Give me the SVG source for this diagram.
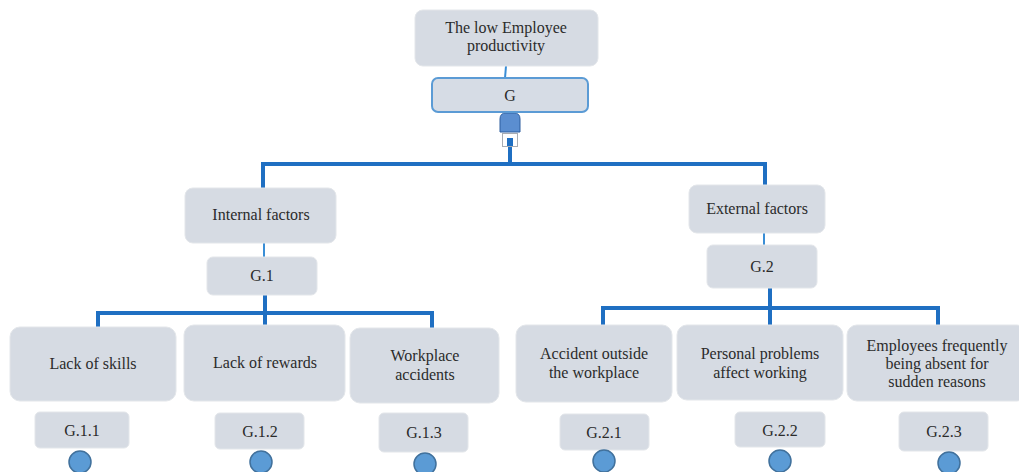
<svg xmlns="http://www.w3.org/2000/svg" width="1019" height="472" viewBox="0 0 1019 472">
  <style>
    .box { fill: #d6dbe3; stroke: #e3e6ea; stroke-width: 1; }
    .gbox { fill: #d6dce5; stroke: #5b9bd5; stroke-width: 2; }
    .lbl { font-family: "Liberation Serif", "DejaVu Serif", serif; font-size: 16px; fill: #2b2b2b; text-anchor: middle; }
    .thick { stroke: #1f6fc2; stroke-width: 4; fill: none; }
    .thin { stroke: #3a8ed6; stroke-width: 2; fill: none; }
    .dot { fill: #5b9bd5; stroke: #41719c; stroke-width: 1.5; }
  </style>
  <rect width="1019" height="472" fill="#ffffff"/>

  <!-- connectors -->
  <g id="connectors">
    <line class="thin" x1="506" y1="66" x2="505" y2="78"/>
    <line class="thick" x1="510" y1="146" x2="510" y2="164"/>
    <polyline class="thick" points="263,188 263,164 765,164 765,185"/>
    <line class="thin" x1="264" y1="243" x2="264" y2="257"/>
    <line class="thick" x1="265" y1="295" x2="265" y2="313"/>
    <polyline class="thick" points="98,328 98,313 432,313 432,328"/>
    <line class="thick" x1="265" y1="313" x2="265" y2="326"/>
    <line class="thin" x1="764" y1="233" x2="764" y2="245"/>
    <line class="thick" x1="770" y1="288" x2="770" y2="308"/>
    <polyline class="thick" points="603,326 603,308 938,308 938,326"/>
    <line class="thick" x1="770" y1="308" x2="770" y2="326"/>
    <!-- plug-shaped junction under G -->
    <path d="M500,132 V119 Q500,113 506,113 H514 Q520,113 520,119 V132 Z" fill="#5b8ed0" stroke="#2f5f9f" stroke-width="1"/>
    <rect x="502.5" y="133.5" width="15" height="13" fill="#ffffff" stroke="#a9adb3" stroke-width="1"/>
    <rect x="507" y="138" width="6" height="8" fill="#1f6fc2"/>
  </g>

  <g id="root">
    <rect class="box" x="415" y="10" width="183" height="56" rx="8"/>
    <text class="lbl" x="506" y="33">The low Employee</text>
    <text class="lbl" x="506" y="51">productivity</text>
  </g>
  <g id="g">
    <rect class="gbox" x="432" y="78" width="156" height="34" rx="6"/>
    <text class="lbl" x="510" y="101">G</text>
  </g>

  <g id="internal">
    <rect class="box" x="185" y="188" width="151" height="55" rx="8"/>
    <text class="lbl" x="261" y="220">Internal factors</text>
  </g>
  <g id="g1">
    <rect class="box" x="207" y="257" width="110" height="38" rx="6"/>
    <text class="lbl" x="262" y="281">G.1</text>
  </g>

  <g id="external">
    <rect class="box" x="689" y="185" width="136" height="48" rx="8"/>
    <text class="lbl" x="757" y="214">External factors</text>
  </g>
  <g id="g2">
    <rect class="box" x="707" y="245" width="110" height="43" rx="6"/>
    <text class="lbl" x="762" y="272">G.2</text>
  </g>

  <g id="skills">
    <rect class="box" x="10" y="327" width="166" height="74" rx="10"/>
    <text class="lbl" x="93" y="369">Lack of skills</text>
  </g>
  <g id="rewards">
    <rect class="box" x="184" y="325" width="161" height="76" rx="10"/>
    <text class="lbl" x="265" y="368">Lack of rewards</text>
  </g>
  <g id="accidents">
    <rect class="box" x="350" y="328" width="149" height="75" rx="10"/>
    <text class="lbl" x="425" y="361">Workplace</text>
    <text class="lbl" x="425" y="380">accidents</text>
  </g>
  <g id="outside">
    <rect class="box" x="516" y="325" width="156" height="77" rx="10"/>
    <text class="lbl" x="594" y="359">Accident outside</text>
    <text class="lbl" x="594" y="378">the workplace</text>
  </g>
  <g id="personal">
    <rect class="box" x="677" y="325" width="166" height="75" rx="10"/>
    <text class="lbl" x="760" y="359">Personal problems</text>
    <text class="lbl" x="760" y="378">affect working</text>
  </g>
  <g id="absent">
    <rect class="box" x="847" y="325" width="180" height="76" rx="10"/>
    <text class="lbl" x="937" y="351">Employees frequently</text>
    <text class="lbl" x="937" y="369">being absent for</text>
    <text class="lbl" x="937" y="387">sudden reasons</text>
  </g>

  <g id="g11">
    <rect class="box" x="35" y="412" width="94" height="36" rx="5"/>
    <text class="lbl" x="82" y="436">G.1.1</text>
    <circle class="dot" cx="80" cy="462" r="11"/>
  </g>
  <g id="g12">
    <rect class="box" x="215" y="413" width="89" height="36" rx="5"/>
    <text class="lbl" x="260" y="437">G.1.2</text>
    <circle class="dot" cx="261" cy="462" r="11"/>
  </g>
  <g id="g13">
    <rect class="box" x="379" y="413" width="89" height="39" rx="5"/>
    <text class="lbl" x="424" y="438">G.1.3</text>
    <circle class="dot" cx="425" cy="464" r="11"/>
  </g>
  <g id="g21">
    <rect class="box" x="560" y="414" width="89" height="36" rx="5"/>
    <text class="lbl" x="604" y="438">G.2.1</text>
    <circle class="dot" cx="604" cy="461" r="11"/>
  </g>
  <g id="g22">
    <rect class="box" x="735" y="412" width="90" height="35" rx="5"/>
    <text class="lbl" x="780" y="436">G.2.2</text>
    <circle class="dot" cx="780" cy="461" r="11"/>
  </g>
  <g id="g23">
    <rect class="box" x="899" y="412" width="89" height="39" rx="5"/>
    <text class="lbl" x="944" y="437">G.2.3</text>
    <circle class="dot" cx="949" cy="463" r="11"/>
  </g>
</svg>
